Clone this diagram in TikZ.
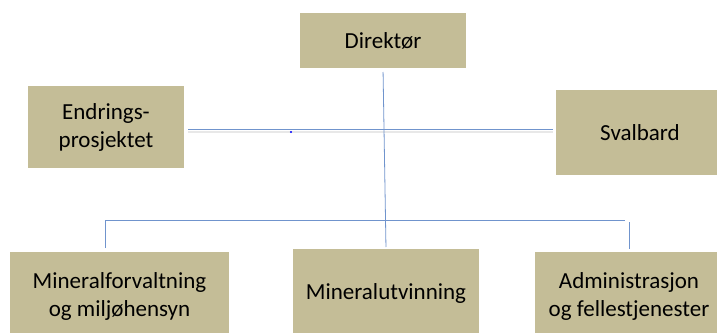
\documentclass[tikz,border=0pt]{standalone}
\usepackage{fontspec}
\setmainfont{Carlito}
\definecolor{boxfill}{HTML}{C4BD97}
\definecolor{conncol}{RGB}{112,148,205}
\definecolor{shadowcol}{RGB}{232,232,232}
\begin{document}
\begin{tikzpicture}[x=1pt,y=1pt,
  box/.style={fill=boxfill,draw=none,inner sep=0pt,outer sep=0pt,align=center,
    font=\fontsize{23}{28}\selectfont},
  conn/.style={draw=conncol,line width=0.8pt},
  lineshadow/.style={draw=shadowcol,line width=2pt}]
\useasboundingbox (0,0) rectangle (717,-332);
\begin{scope}
\clip (0,0) rectangle (717,-332);
\node[box,minimum width=166,minimum height=55] (dir) at (383,-40.5) {Direktør};
\node[box,minimum width=156,minimum height=82] (endr) at (106,-127) {Endrings-\\prosjektet};
\node[box,minimum width=168,minimum height=85] (sval) at (640,-132.5) {Svalbard};
\node[box,minimum width=219,minimum height=88] (left) at (119.5,-296) {Mineralforvaltning\\og miljøhensyn};
\node[box,minimum width=186,minimum height=88] (mid) at (386,-293) {Mineralutvinning};
\node[box,minimum width=188,minimum height=88] (right) at (629,-296) {Administrasjon\\og fellestjenester};
\end{scope}
\coordinate (hl) at (0,-129);
\coordinate (hls) at (0,-131.5);
\coordinate (ld) at (105.6,-220);
\coordinate (be) at (625,-220);
\coordinate (rd) at (629,-222);
% shadow of the middle line
\draw[lineshadow] ([xshift=4]endr.east |- hls) -- ([xshift=-3]sval.west |- hls);
\draw[conn] ([xshift=4]endr.east |- hl) -- ([xshift=-3]sval.west |- hl);
\draw[conn,shorten <=4pt,shorten >=2pt] (dir.south) -- (mid.north);
\draw[conn] ([yshift=4]left.north -| ld) -- (ld) -- (be);
\draw[conn] (rd) -- ([yshift=3]right.north);
\fill[blue] (291,-132) circle (1.1);
\end{tikzpicture}
\end{document}
